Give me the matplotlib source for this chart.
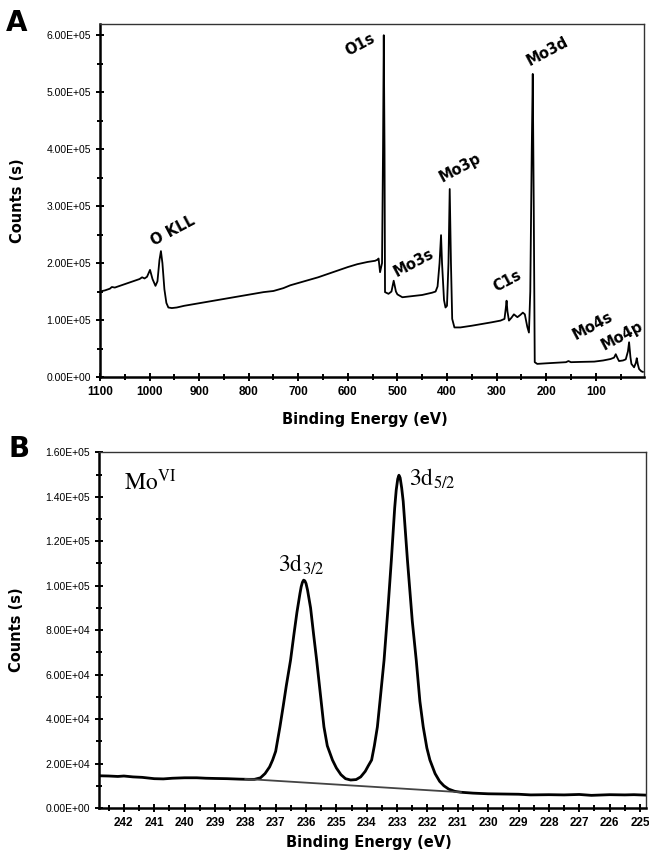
import numpy as np
import matplotlib
matplotlib.use("Agg")
import matplotlib.pyplot as plt
from matplotlib.ticker import MultipleLocator, FuncFormatter

plt.rcParams['mathtext.fontset'] = 'stix'

# ---- Panel A: survey spectrum (binding energy eV, counts in thousands) ----
survey_be = [1100, 1090, 1080, 1076, 1070, 1060, 1050, 1040, 1030, 1020, 1015, 1010,
             1005, 999, 994, 988, 984, 980, 977, 974, 970, 966, 962, 955, 945, 930,
             910, 890, 870, 850, 830, 810, 790, 770, 750, 730, 716, 700, 680, 660,
             640, 620, 600, 581, 560, 545, 540, 538, 535, 531, 529, 527.5, 526, 525,
             518, 512, 507.5, 503, 500, 490, 470, 450, 440, 430, 423, 419, 415, 412,
             410, 406, 403, 400, 397, 394.5, 392, 389.5, 385, 373, 350, 330, 310,
             292, 284, 281.5, 279.8, 278, 275, 270, 265, 258, 252, 247, 243, 238,
             234.7, 232, 229, 227, 225, 223, 218, 200, 180, 160, 155, 150, 130, 103,
             85, 70, 63, 59.6, 56, 53, 45, 39.4, 35, 32.7, 30, 28, 22.6, 19, 17.2,
             15, 12.5, 8, 5]
survey_counts = [150, 152, 155, 158, 157, 160, 163, 166, 169, 172, 175, 173,
                 176, 188, 172, 160, 168, 205, 221, 200, 154, 130, 122, 121, 122, 125,
                 128, 131, 134, 137, 140, 143, 146, 149, 151, 156, 161, 165, 170, 175,
                 181, 187, 193, 198, 202, 204, 206, 208, 184, 200, 400, 600, 400, 149,
                 146, 150, 169, 150, 145, 140, 142, 144, 146, 148, 150, 159, 200, 249,
                 200, 135, 122, 125, 200, 330, 200, 102, 87, 87, 90, 93, 96,
                 99, 102, 120, 134, 115, 99, 104, 110, 105, 109, 113, 110, 88,
                 78, 150, 400, 532, 300, 26, 23, 24, 25, 26, 28, 26, 26.5, 27,
                 29, 31.6, 34, 40, 33, 28, 29, 31, 45, 61, 35, 23, 17, 25, 33,
                 22, 14, 10, 9]

survey_labels = ["O KLL", "O1s", "Mo3d", "Mo3p", "Mo3s", "C1s", "Mo4s", "Mo4p"]
label_be = [952, 575, 198, 373, 467, 278, 107, 46]
label_counts = [257, 584, 572, 368, 201, 169, 90, 72]

# ---- Panel B: Mo 3d high resolution (binding energy eV, counts in thousands) ----
mo3d_be = [242.8, 242.5, 242.2, 242.0, 241.7, 241.4, 241.0, 240.7, 240.4, 240.0,
           239.6, 239.3, 239.0, 238.6, 238.2, 237.9, 237.7, 237.5, 237.35, 237.2,
           237.1, 237.0, 236.86, 236.75, 236.65, 236.51, 236.4, 236.3, 236.2,
           236.16, 236.12, 236.08, 236.04, 236.0, 235.95, 235.85, 235.75, 235.65,
           235.55, 235.41, 235.3, 235.13, 235.0, 234.85, 234.7, 234.53, 234.35,
           234.2, 234.05, 233.95, 233.84, 233.75, 233.65, 233.55, 233.43, 233.3,
           233.19, 233.08, 233.03, 232.98, 232.94, 232.9, 232.85, 232.8, 232.66,
           232.5, 232.37, 232.25, 232.14, 232.02, 231.92, 231.75, 231.6, 231.46,
           231.3, 231.1, 230.9, 230.5, 230.0, 229.5, 229.0, 228.6, 228.0, 227.5,
           227.0, 226.6, 226.0, 225.5, 225.2, 224.8]
mo3d_counts = [14.5, 14.4, 14.2, 14.4, 14.0, 13.8, 13.2, 13.1, 13.4, 13.6,
               13.6, 13.4, 13.3, 13.2, 13.0, 12.9, 12.9, 13.6, 15.5, 18.5,
               21.6, 25.5, 36.5, 46, 55, 66.5, 78, 88, 96.5,
               99.5, 101.5, 102.5, 102.2, 101, 98, 90, 78, 66.5,
               54, 36.5, 28, 21.6, 18, 15, 13.2, 12.6, 12.8,
               14, 16.5, 19, 21.6, 28, 36.5, 50, 66.5, 90,
               111.5, 135, 143, 148, 149.7, 148.5, 144, 138, 111.5,
               84, 66.5, 48, 36.5, 27, 21.6, 15.5, 12, 10,
               8.5, 7.5, 7.1, 6.7, 6.4, 6.3, 6.2, 5.9, 6.0, 5.9,
               6.1, 5.7, 6.0, 5.9, 6.0, 5.8]
bg_be = [238.0, 230.9]
bg_counts = [13.1, 7.1]

sci = FuncFormatter(lambda v, p: "{:.2E}".format(v))

fig = plt.figure(figsize=(6.49, 8.51), dpi=100)
axA = fig.add_axes([0.154, 0.557, 0.838, 0.415])
axB = fig.add_axes([0.1525, 0.0505, 0.843, 0.418])

def style_axes(ax):
    for s in ['left', 'bottom']:
        ax.spines[s].set_linewidth(1.8)
    for s in ['top', 'right']:
        ax.spines[s].set_linewidth(1.0)
        ax.spines[s].set_color('#333333')
    ax.tick_params(which='major', direction='inout', length=6, width=1.4,
                   top=False, right=False)
    ax.tick_params(which='minor', direction='inout', length=5, width=1.4,
                   top=False, right=False)
    ax.yaxis.set_major_formatter(sci)
    for t in ax.get_yticklabels():
        t.set_fontfamily('Liberation Sans')
        t.set_fontsize(7.5)
    for t in ax.get_xticklabels():
        t.set_fontfamily('Liberation Sans')
        t.set_fontsize(8.5)
        t.set_fontweight('bold')

# Panel A
axA.plot(survey_be, np.array(survey_counts) * 1e3, color='black', lw=1.3)
axA.set_xlim(1100, 3)
axA.set_ylim(0, 6.2e5)
axA.xaxis.set_major_locator(MultipleLocator(100))
axA.xaxis.set_minor_locator(MultipleLocator(50))
axA.yaxis.set_major_locator(MultipleLocator(1e5))
axA.yaxis.set_minor_locator(MultipleLocator(0.5e5))
axA.set_xticks(np.arange(100, 1101, 100))
style_axes(axA)
axA.set_xlabel("Binding Energy (eV)", fontsize=10.5, fontweight='bold')
axA.set_ylabel("Counts (s)", fontsize=10.5, fontweight='bold')
axA.xaxis.set_label_coords(0.487, -0.1)
axA.yaxis.set_label_coords(-0.138, 0.5)
for lab, x, y in zip(survey_labels, label_be, label_counts):
    axA.text(x, y * 1e3, lab, rotation=28, fontsize=10.5, fontweight='bold',
             ha='center', va='center', rotation_mode='anchor')

# Panel B
axB.plot(mo3d_be, np.array(mo3d_counts) * 1e3, color='black', lw=2.0)
axB.plot(bg_be, np.array(bg_counts) * 1e3, color='#444444', lw=1.3)
axB.set_xlim(242.82, 224.8)
axB.set_ylim(0, 1.6e5)
axB.xaxis.set_major_locator(MultipleLocator(1))
axB.xaxis.set_minor_locator(MultipleLocator(0.5))
axB.yaxis.set_major_locator(MultipleLocator(2e4))
axB.yaxis.set_minor_locator(MultipleLocator(1e4))
style_axes(axB)
axB.set_xlabel("Binding Energy (eV)", fontsize=10.5, fontweight='bold')
axB.set_ylabel("Counts (s)", fontsize=10.5, fontweight='bold')
axB.xaxis.set_label_coords(0.493, -0.075)
axB.yaxis.set_label_coords(-0.137, 0.5)
axB.text(241.98, 1.43e5, r"Mo$^{\mathrm{VI}}$", fontsize=17, family='STIXGeneral')
axB.text(232.62, 1.45e5, r"3d$_{5/2}$", fontsize=17, family='STIXGeneral')
axB.text(236.93, 1.065e5, r"3d$_{3/2}$", fontsize=17, family='STIXGeneral')

fig.text(0.025, 0.973, "A", fontsize=20, fontweight='bold', ha='center', va='center')
fig.text(0.029, 0.472, "B", fontsize=20, fontweight='bold', ha='center', va='center')

fig.savefig("out.png", dpi=100)
